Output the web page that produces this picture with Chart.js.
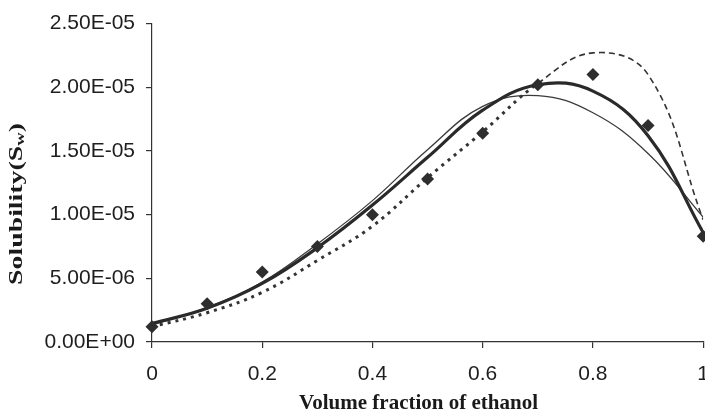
<!DOCTYPE html>
<html>
<head>
<meta charset="utf-8">
<script src="https://cdn.jsdelivr.net/npm/chart.js@4/dist/chart.umd.min.js"></script>
<style>
  html, body { margin: 0; padding: 0; background: #fff; overflow: hidden; }
  #wrap { width: 705px; height: 414px; overflow: hidden; }
  canvas { display: block; }
</style>
</head>
<body>
<div id="wrap"><canvas id="chart" width="723" height="414"></canvas></div>
<script>
// Volume fraction of ethanol
const fractions = [0, 0.1, 0.2, 0.3, 0.4, 0.5, 0.6, 0.7, 0.8, 0.9, 1.0];

// Solubility values, in units of 1E-06
const experimental = [1.2, 3.0, 5.5, 7.5, 10.0, 12.8, 16.4, 20.2, 21.0, 17.0, 8.3];
const modelThick   = [1.45, 2.65, 4.6, 7.4, 10.75, 14.5, 18.2, 20.2, 19.7, 16.2, 8.6];
const modelThin    = [1.35, 2.7, 4.7, 7.7, 11.1, 15.1, 18.5, 19.35, 18.0, 14.8, 9.8];
const modelDotted  = [1.2, 2.3, 3.9, 6.4, 9.1, 12.9, 16.5, 20.3, 22.7, 21.0, 9.6];

// tick positions (y in the same units)
const yTicks = [0, 5, 10, 15, 20, 25];
const xTicks = [0, 0.2, 0.4, 0.6, 0.8, 1];

const INK = '#2e2e2e';

function sciLabel(v) {
    const val = v * 1e-6;
    if (Math.abs(val) < 1e-12) return '0.00E+00';
    const e = Math.floor(Math.log10(Math.abs(val)) + 1e-9);
    const m = val / Math.pow(10, e);
    return m.toFixed(2) + 'E' + (e < 0 ? '-' : '+') + String(Math.abs(e)).padStart(2, '0');
}

function pairs(values) {
    return values.map((v, i) => ({ x: fractions[i], y: v }));
}

// axis titles drawn by hand (subscript w in the y title)
const axisTitles = {
    id: 'axisTitles',
    afterDraw(chart) {
        const ctx = chart.ctx;
        ctx.save();
        ctx.fillStyle = '#1a1a1a';
        ctx.font = 'bold 21px "Liberation Serif", "Times New Roman", serif';
        ctx.textAlign = 'center';
        ctx.textBaseline = 'alphabetic';
        ctx.fillText('Volume fraction of ethanol', 418.5, 409);
        ctx.restore();

        ctx.save();
        const big = 'bold 18px "Liberation Serif", "Times New Roman", serif';
        const small = 'bold 12px "Liberation Serif", "Times New Roman", serif';
        ctx.font = big;
        const w1 = ctx.measureText('Solubility(S').width;
        const w3 = ctx.measureText(')').width;
        ctx.font = small;
        const w2 = ctx.measureText('w').width;
        const total = w1 + w2 + w3;
        ctx.translate(22, 204);
        ctx.rotate(-Math.PI / 2);
        ctx.scale(162 / total, 1);
        ctx.fillStyle = '#1a1a1a';
        ctx.textAlign = 'left';
        ctx.textBaseline = 'alphabetic';
        let x0 = -total / 2;
        ctx.font = big;
        ctx.fillText('Solubility(S', x0, 0);
        ctx.font = small;
        ctx.fillText('w', x0 + w1, 2);
        ctx.font = big;
        ctx.fillText(')', x0 + w1 + w2, 0);
        ctx.restore();
    }
};

const ctx = document.getElementById('chart').getContext('2d');
new Chart(ctx, {
    type: 'line',
    data: {
        datasets: [
            {
                label: 'Experimental',
                data: pairs(experimental),
                showLine: false,
                pointStyle: 'rectRot',
                pointRadius: 6.5,
                pointBackgroundColor: INK,
                pointBorderColor: INK,
                pointBorderWidth: 0,
                clip: false
            },
            {
                label: 'Model 1',
                data: pairs(modelThick),
                borderColor: '#2a2a2a',
                borderWidth: 3.2,
                tension: 0.4,
                pointRadius: 0
            },
            {
                label: 'Model 2',
                data: pairs(modelThin),
                borderColor: '#3a3a3a',
                borderWidth: 1.3,
                tension: 0.4,
                pointRadius: 0
            },
            {
                label: 'Model 3',
                data: pairs(modelDotted),
                borderColor: '#333',
                borderWidth: 3,
                borderDash: [3, 5],
                tension: 0.4,
                pointRadius: 0,
                segment: {
                    borderDash: c => c.p0DataIndex >= 7 ? [6, 4] : [3, 5],
                    borderWidth: c => c.p0DataIndex >= 7 ? 1.6 : 3
                }
            }
        ]
    },
    options: {
        responsive: false,
        animation: false,
        devicePixelRatio: 1,
        layout: { padding: { top: 23, left: 0, right: 0, bottom: 0 } },
        plugins: {
            legend: { display: false },
            tooltip: { enabled: false }
        },
        scales: {
            x: {
                type: 'linear',
                min: 0,
                max: 1,
                afterFit: s => { s.height = 72; },
                afterBuildTicks: s => { s.ticks = xTicks.map(v => ({ value: v })); },
                border: { color: '#333', width: 1.2 },
                grid: { drawOnChartArea: false, tickLength: 6, color: '#333', lineWidth: 1.2 },
                ticks: {
                    padding: 14,
                    color: '#1e1e1e',
                    font: { family: '"Liberation Sans", Arial, sans-serif', size: 21 },
                    maxRotation: 0,
                    callback: v => String(v)
                }
            },
            y: {
                type: 'linear',
                min: 0,
                max: 25,
                afterFit: s => { s.width = 152; },
                afterBuildTicks: s => { s.ticks = yTicks.map(v => ({ value: v })); },
                border: { color: '#333', width: 1.2 },
                grid: { drawOnChartArea: false, tickLength: 6, color: '#333', lineWidth: 1.2 },
                ticks: {
                    padding: 11,
                    color: '#1e1e1e',
                    font: { family: '"Liberation Sans", Arial, sans-serif', size: 21 },
                    callback: v => sciLabel(v)
                }
            }
        }
    },
    plugins: [axisTitles]
});
</script>
</body>
</html>
